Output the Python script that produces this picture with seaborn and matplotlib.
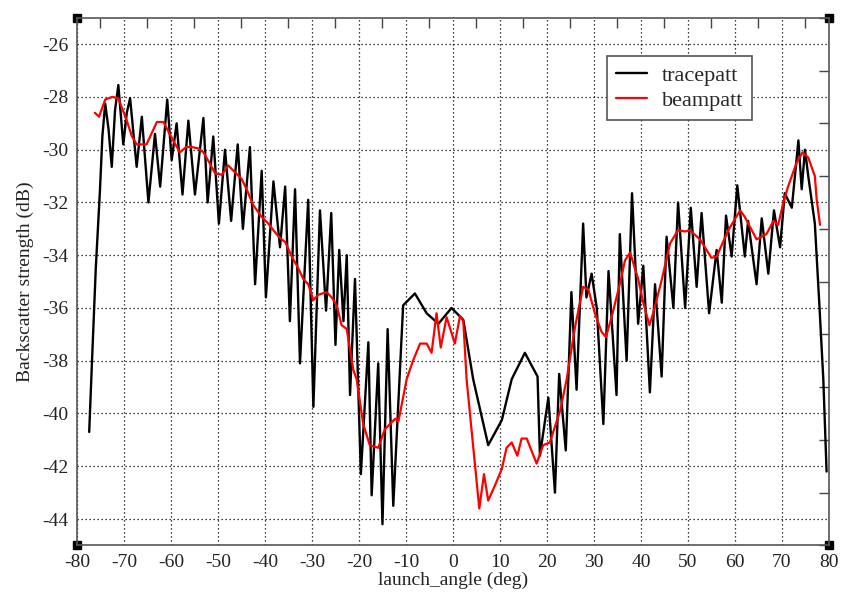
import pandas as pd
import numpy as np
import matplotlib
matplotlib.use("Agg")
import matplotlib.pyplot as plt
from matplotlib.ticker import MultipleLocator
import seaborn as sns

sns.set_theme(style="white")
plt.rcParams['font.family'] = ['Liberation Serif', 'DejaVu Serif']
plt.rcParams['axes.unicode_minus'] = False

# tracepatt (black, jagged)
trace_angle = [-77.4, -76.8, -76.0, -75.1, -74.6, -74.0, -73.3, -72.6, -71.9, -71.2,
               -70.15, -69.4, -68.7, -67.3, -66.2, -64.8, -63.4, -62.3, -60.8, -59.85,
               -58.8, -57.55, -56.3, -54.9, -53.1, -52.2, -51.0, -49.8, -48.5, -47.2,
               -45.8, -44.7, -43.2, -42.1, -40.7, -39.8, -38.2, -36.8, -35.7, -34.7,
               -33.6, -32.55, -30.8, -29.7, -28.3, -27.0, -25.9, -25.0, -24.2, -23.3,
               -22.6, -21.9, -20.85, -19.6, -18.0, -17.3, -15.9, -15.0, -13.9, -12.7,
               -10.6, -8.1, -5.6, -3.1, -0.3, 2.2, 4.3, 7.5, 10.4, 12.5,
               15.3, 18.0, 18.5, 20.3, 21.7, 22.6, 24.0, 25.2, 26.3, 27.7,
               28.4, 29.5, 30.6, 32.0, 33.1, 34.8, 35.5, 36.95, 38.1, 39.4,
               40.5, 41.9, 43.0, 44.4, 45.45, 46.9, 47.9, 49.4, 50.6, 51.85,
               52.9, 54.5, 56.1, 57.2, 58.1, 59.3, 60.5, 62.1, 62.8, 64.6,
               65.7, 67.1, 68.3, 69.6, 70.6, 72.1, 73.5, 74.2, 74.9, 75.6,
               77.0, 78.0, 78.8, 79.5]
trace_db = [-40.7, -38.0, -34.5, -31.5, -29.5, -28.25, -29.2, -30.65, -28.5, -27.55,
            -29.8, -28.6, -28.05, -30.65, -28.75, -32.0, -29.4, -31.4, -28.1, -30.4,
            -29.0, -31.7, -28.9, -31.7, -28.8, -32.0, -29.5, -32.8, -30.0, -32.7,
            -29.8, -33.0, -29.9, -35.1, -30.8, -35.6, -31.2, -33.7, -31.4, -36.5,
            -31.5, -38.1, -31.9, -39.75, -32.3, -36.1, -32.4, -37.4, -33.8, -36.5,
            -34.0, -39.3, -34.9, -42.3, -37.3, -43.1, -38.1, -44.2, -36.8, -43.5,
            -35.9, -35.45, -36.2, -36.6, -36.0, -36.45, -38.7, -41.2, -40.25, -38.7,
            -37.7, -38.6, -41.6, -39.4, -43.0, -38.5, -41.4, -35.4, -39.1, -32.8,
            -35.6, -34.7, -36.0, -40.4, -34.6, -39.3, -33.2, -38.0, -31.65, -36.6,
            -34.4, -39.2, -35.1, -38.6, -33.3, -36.0, -32.0, -36.0, -32.2, -35.2,
            -32.4, -36.2, -33.8, -35.8, -32.5, -34.05, -31.35, -34.05, -32.7, -35.1,
            -32.6, -34.7, -32.3, -33.7, -31.65, -32.2, -29.65, -31.5, -30.0, -31.0,
            -32.8, -36.0, -38.7, -42.2]

# beampatt (red, smoother)
beam_angle = [-76.2, -75.3, -74.0, -72.5, -71.2, -69.4, -68.3, -67.3, -65.2, -63.0,
              -61.6, -60.0, -58.1, -56.8, -55.6, -54.2, -53.1, -51.8, -50.6, -49.2,
              -47.8, -46.7, -45.0, -43.9, -42.5, -40.7, -39.3, -38.0, -36.8, -35.7,
              -34.3, -32.9, -31.85, -30.8, -29.7, -28.65, -26.9, -25.8, -24.75, -23.7,
              -22.6, -21.2, -20.5, -19.1, -17.7, -15.9, -14.5, -12.3, -11.6, -9.85,
              -8.5, -7.0, -5.6, -4.55, -3.5, -2.6, -1.35, 0.4, 1.5, 2.2,
              2.9, 4.3, 5.6, 6.6, 7.5, 9.0, 10.4, 11.4, 12.5, 13.7,
              14.6, 15.7, 17.8, 19.2, 20.6, 22.8, 24.2, 26.0, 27.7, 28.8,
              30.2, 31.6, 32.55, 33.75, 35.5, 36.6, 37.7, 39.4, 40.5, 41.8,
              42.6, 44.4, 46.2, 47.9, 49.4, 50.4, 52.55, 55.0, 56.1, 58.6,
              61.1, 62.1, 64.6, 66.7, 68.2, 69.2, 70.3, 71.3, 73.1, 74.4,
              75.6, 77.0, 77.4, 78.1]
beam_db = [-28.6, -28.75, -28.1, -28.0, -28.05, -28.9, -29.5, -29.8, -29.8, -28.95,
           -28.95, -29.5, -30.1, -29.9, -29.9, -29.95, -30.1, -30.5, -30.9, -30.95,
           -30.6, -30.8, -31.1, -31.5, -32.1, -32.55, -32.8, -33.1, -33.35, -33.5,
           -34.05, -34.5, -34.9, -35.1, -35.7, -35.5, -35.4, -35.6, -35.9, -36.65,
           -36.8, -38.35, -38.7, -40.4, -41.2, -41.3, -40.6, -40.2, -40.3, -38.7,
           -38.0, -37.35, -37.35, -37.7, -36.2, -37.5, -36.35, -37.35, -36.3, -36.5,
           -38.7, -41.25, -43.6, -42.3, -43.3, -42.7, -42.1, -41.3, -41.1, -41.6,
           -40.95, -40.95, -41.9, -41.2, -41.1, -39.9, -38.7, -36.7, -35.2, -35.3,
           -36.2, -36.9, -37.1, -36.35, -35.1, -34.2, -33.9, -34.9, -35.8, -36.65,
           -36.2, -34.95, -33.55, -33.05, -33.1, -33.05, -33.4, -34.1, -34.05, -33.05,
           -32.3, -32.55, -33.4, -33.2, -32.7, -32.85, -32.0, -31.4, -30.5, -30.1,
           -30.3, -31.0, -31.9, -32.85]

trace = pd.DataFrame({'angle': trace_angle, 'db': trace_db})
beam = pd.DataFrame({'angle': beam_angle, 'db': beam_db})

fig = plt.figure(figsize=(8.45, 5.93), dpi=100)
ax = fig.add_axes([0.0911, 0.0803, 0.8899, 0.8897])

sns.lineplot(data=trace, x='angle', y='db', sort=False, estimator=None,
             color='black', lw=1.7, label='tracepatt', ax=ax)
sns.lineplot(data=beam, x='angle', y='db', sort=False, estimator=None,
             color='#ff0000', lw=1.6, label='beampatt', ax=ax)

ax.set_xlim(-80, 80)
ax.set_ylim(-45, -25)
ax.xaxis.set_major_locator(MultipleLocator(10))
ax.xaxis.set_minor_locator(MultipleLocator(5))
ax.set_yticks(np.arange(-44, -25, 2))
ax.yaxis.set_minor_locator(MultipleLocator(1))
ax.tick_params(which='both', direction='in', top=True, right=True,
               color='#444444', labelsize=14, labelcolor='#222222')
ax.tick_params(which='major', length=0, pad=6)
ax.tick_params(which='minor', length=7, width=1)
ax.grid(True, which='major', linestyle=(0, (1, 2.2)), color='black', lw=0.9)

for s in ax.spines.values():
    s.set_color('#555555')
    s.set_linewidth(1.2)

# corner squares
ax.plot([0, 1, 0, 1], [0, 0, 1, 1], 's', color='black', ms=6,
        transform=ax.transAxes, clip_on=False)

ax.set_xlabel('launch_angle (deg)', fontsize=14, color='#222222', labelpad=1)
ax.set_ylabel('Backscatter strength (dB)', fontsize=14, color='#222222', labelpad=6)

leg = ax.legend(loc='upper left', bbox_to_anchor=(0.705, 0.927), fontsize=16,
                frameon=True, fancybox=False, framealpha=1, edgecolor='#555555',
                handlelength=1.4, handletextpad=0.68, borderpad=0.4, labelspacing=0.2,
                borderaxespad=0)
leg.get_frame().set_linewidth(1.2)

fig.savefig('out.png', dpi=100)
